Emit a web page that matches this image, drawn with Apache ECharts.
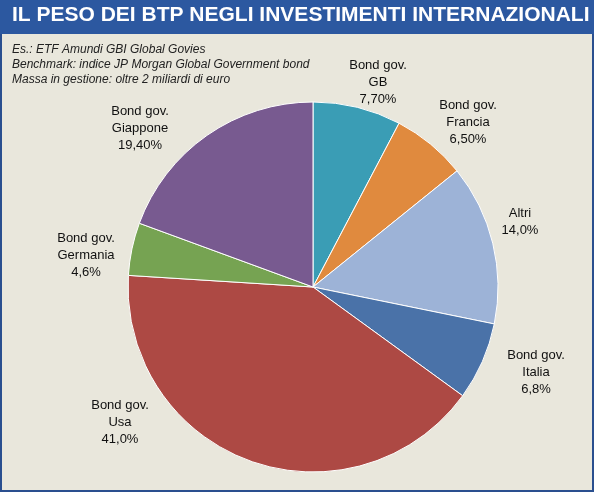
<!DOCTYPE html>
<html><head><meta charset="utf-8">
<script src="https://cdn.jsdelivr.net/npm/echarts@6/dist/echarts.min.js"></script>
<style>html,body{margin:0;padding:0;background:#e9e7dc}#c{width:594px;height:492px}</style>
</head><body><div id="c"></div>
<script>
const names = ['Bond gov.\nGB','Bond gov.\nFrancia','Altri','Bond gov.\nItalia','Bond gov.\nUsa','Bond gov.\nGermania','Bond gov.\nGiappone'];
const values = [7.7, 6.5, 14.0, 6.8, 41.0, 4.6, 19.4];
const valueLabels = ['7,70%','6,50%','14,0%','6,8%','41,0%','4,6%','19,40%'];
const colors = ['#3a9db5','#e08a3e','#9db3d7','#4a72a8','#ad4944','#76a352','#785a90'];
const labelPos = [[378,82],[468,122],[520,222],[536,372],[120,422],[86,255],[140,128]];
const chart = echarts.init(document.getElementById('c'));
const labelGraphics = names.map((n,i)=>({type:'text',x:labelPos[i][0],y:labelPos[i][1],
  style:{text:n+'\n'+valueLabels[i],fill:'#111',font:'13px "Liberation Sans", Arial',lineHeight:17,align:'center',verticalAlign:'middle'}}));
chart.setOption({
  backgroundColor:'#e9e7dc',
  graphic:[
    {type:'rect',shape:{x:1,y:1,width:592,height:490},style:{fill:'none',stroke:'#2a4f8f',lineWidth:2}},
    {type:'rect',shape:{x:0,y:0,width:594,height:34},style:{fill:'#2c58a0'}},
    {type:'text',left:12,top:5,style:{text:'IL PESO DEI BTP NEGLI INVESTIMENTI INTERNAZIONALI',fill:'#fff',font:'bold 21px "Liberation Sans", Arial'}},
    {type:'text',left:12,top:42,style:{text:'Es.: ETF Amundi GBI Global Govies\nBenchmark: indice JP Morgan Global Government bond\nMassa in gestione: oltre 2 miliardi di euro',fill:'#222',font:'italic 12px "Liberation Sans", Arial',lineHeight:15}}
  ].concat(labelGraphics.map(g=>Object.assign(g,{z:100}))),
  series:[{
    type:'pie',center:[313,287],radius:185,startAngle:90,clockwise:true,
    data:names.map((n,i)=>({name:n,value:values[i],itemStyle:{color:colors[i]}})),
    itemStyle:{borderColor:'#fff',borderWidth:1},
    label:{show:false},labelLine:{show:false},
    emphasis:{disabled:true},animation:false
  }]
});
</script></body></html>
